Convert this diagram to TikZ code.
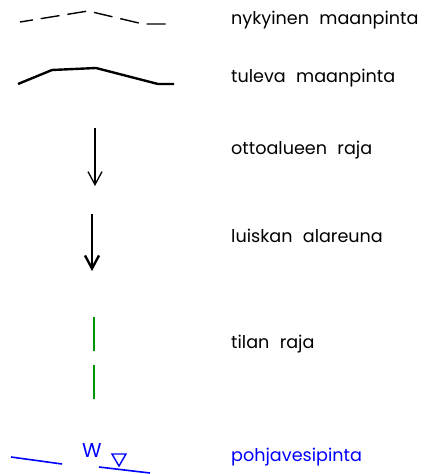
\documentclass[tikz,border=0pt]{standalone}
\usepackage{fontspec}
\setmainfont[WordSpace=2.2]{Poppins}
\usetikzlibrary{arrows.meta, positioning}
\definecolor{rajagreen}{RGB}{0,150,0}
\definecolor{vesiblue}{RGB}{0,0,255}
\tikzset{
  selite/.style = {anchor=west, inner sep=0pt, font=\fontsize{17.6}{20}\selectfont},% selitteen teksti
  nyky/.style = {line width=1.4pt, dash pattern=on 19pt off 8pt, dash phase=6pt},% nykyinen maanpinta
  tuleva/.style = {line width=2.4pt},% tuleva maanpinta
  ottoraja/.style = {line width=1.3pt, -{Straight Barb[length=13pt,width=14pt]}},
  luiska/.style = {line width=2.4pt, -{Straight Barb[length=13pt,width=14pt]}},
  tilaraja/.style = {rajagreen, line width=1.6pt},
  vesi/.style = {vesiblue, line width=1.6pt}
}
\begin{document}
\begin{tikzpicture}[x=1pt, y=-1pt]
\useasboundingbox (0,0) rectangle (440,474);
% selitteet
\node (nyk) [selite] at (231,20) {nykyinen maanpinta};
\node (tul) [selite] at (231,78) {tuleva maanpinta};
\node (otto) [selite] at (231,150) {ottoalueen raja};
\node (lui) [selite] at (231,236) {luiskan alareuna};
\node (til) [selite] at (231,344) {tilan raja};
\node (poh) [selite, text=vesiblue] at (231,457) {pohjavesipinta};
% symbolit
\draw [nyky] (20,22) -- (88,11) -- (143,24) -- (167,24);
\draw [tuleva] (18,84) -- (52,70) -- (96,68) -- (158,84) -- (174,84);
\coordinate (o1) at (95,128);
\coordinate (o2) at (95,186);
\draw [ottoraja] (o1) -- (o2);
\coordinate (l1) at (92,214);
\coordinate (l2) at (92,271);
\draw [luiska] (l1) -- (l2);
\draw [tilaraja] (94,317) -- (94,351);
\draw [tilaraja] (94,365) -- (94,399);
\draw [vesi] (11,457) -- (62,464);
\draw [vesi] (99,467) -- (150,473);
\draw [vesi, line width=1.4pt] (112,454) -- (126,454) -- (119,466) -- cycle;
\node (w) [text=vesiblue, inner sep=0pt, font=\fontsize{20}{22}\selectfont] at (92,451) {W};
\end{tikzpicture}
\end{document}
